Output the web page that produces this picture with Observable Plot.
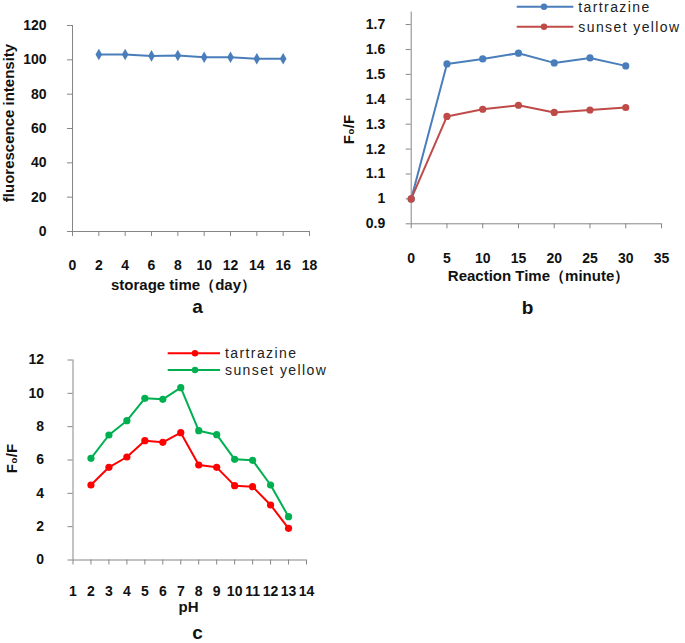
<!DOCTYPE html>
<html><head><meta charset="utf-8">
<script src="https://cdn.jsdelivr.net/npm/d3@7"></script>
<script src="https://cdn.jsdelivr.net/npm/@observablehq/plot@0.6"></script>
<style>
body{margin:0;background:#fff;}
#root{position:relative;width:685px;height:643px;overflow:hidden;font-family:"Liberation Sans",Arial,sans-serif;}
.panel{position:absolute;}
.panel svg{overflow:visible;}
</style></head><body><div id="root"></div>
<script>
// ---- data ----
const seriesNames = ["tartrazine", "sunset yellow"];

const daysA = [2, 4, 6, 8, 10, 12, 14, 16];
const intensityA = [103.1, 103.1, 102.3, 102.5, 101.5, 101.5, 100.6, 100.6];
const xTicksA = [0, 2, 4, 6, 8, 10, 12, 14, 16, 18];
const yTicksA = [0, 20, 40, 60, 80, 100, 120];

const timeB = [0, 5, 10, 15, 20, 25, 30];
const tartrazineB = [1.0, 1.542, 1.562, 1.585, 1.546, 1.566, 1.534];
const sunsetB = [1.0, 1.331, 1.360, 1.376, 1.347, 1.357, 1.367];
const xTicksB = [0, 5, 10, 15, 20, 25, 30, 35];
const yTicksB = [0.9, 1, 1.1, 1.2, 1.3, 1.4, 1.5, 1.6, 1.7];

const pHC = [2, 3, 4, 5, 6, 7, 8, 9, 10, 11, 12, 13];
const tartrazineC = [4.50, 5.56, 6.18, 7.16, 7.06, 7.64, 5.70, 5.56, 4.46, 4.40, 3.30, 1.90];
const sunsetC = [6.10, 7.50, 8.36, 9.70, 9.64, 10.34, 7.76, 7.52, 6.04, 5.98, 4.50, 2.60];
const xTicksC = [1, 2, 3, 4, 5, 6, 7, 8, 9, 10, 11, 12, 13, 14];
const yTicksC = [0, 2, 4, 6, 8, 10, 12];

// ---- styling ----
const axisGray = "#868686";
const textColor = "#111";
const font = "'Liberation Sans', Arial, sans-serif";
const blueA = "#4a7ebb";
const colorsB = ["#4a7ebb", "#be4b48"];
const colorsC = ["#ff0000", "#00b050"];

const root = document.getElementById("root");
function place(el, left, top) {
  const d = document.createElement("div");
  d.className = "panel";
  d.style.left = left + "px";
  d.style.top = top + "px";
  d.appendChild(el);
  root.appendChild(d);
}
const baseStyle = {fontFamily: font, fontSize: "14px", fontWeight: "bold", color: textColor, background: "transparent", overflow: "visible"};
function title(str, dx, dy, extra = {}) {
  return Plot.text([str], {text: d => d, frameAnchor: "top-left", dx, dy, lineAnchor: "middle", textAnchor: "middle",
    fontSize: 15, fontWeight: "bold", fill: textColor, ...extra});
}
function legend(svg, names, colors, x1, x2, xm, xt, ys) {
  const g = d3.select(svg).append("g").attr("text-anchor", "start");
  names.forEach((n, i) => {
    g.append("line").attr("x1", x1).attr("x2", x2).attr("y1", ys[i]).attr("y2", ys[i])
      .attr("stroke", colors[i]).attr("stroke-width", 2);
    g.append("circle").attr("cx", xm).attr("cy", ys[i]).attr("r", 3.2).attr("fill", colors[i]);
    g.append("text").attr("x", xt).attr("y", ys[i]).attr("dy", "0.35em")
      .attr("text-anchor", "start")
      .attr("font-family", font).attr("font-size", 14).attr("font-weight", "normal")
      .attr("letter-spacing", "1.4px").attr("fill", "#222").text(n);
  });
}
// give axis titles a little extra tracking, as in the reference
function track(svg) {
  d3.select(svg).selectAll("text").filter(function() {
    return this.getAttribute("font-size") === "15";
  }).attr("letter-spacing", "0.4px");
  return svg;
}

// ---- panel a ----
const dataA = daysA.map((d, i) => ({day: d, value: intensityA[i]}));
const plotA = Plot.plot({
  width: 340, height: 320, marginLeft: 72, marginRight: 31, marginTop: 25, marginBottom: 89,
  x: {domain: [0, 18]}, y: {domain: [0, 120]},
  style: baseStyle,
  marks: [
    Plot.ruleY([0], {stroke: axisGray}),
    Plot.ruleX([0], {stroke: axisGray}),
    Plot.axisX({ticks: xTicksA, tickSize: 5, tickPadding: 24, stroke: axisGray, fill: textColor, label: null}),
    Plot.axisY({ticks: yTicksA, tickSize: 5, tickPadding: 21, stroke: axisGray, fill: textColor, label: null}),
    Plot.line(dataA, {x: "day", y: "value", stroke: blueA, strokeWidth: 2}),
    Plot.dot(dataA, {x: "day", y: "value", symbol: "diamond", r: 3.5, fill: blueA}),
    title("fluorescence intensity", -63, 97.5, {rotate: -90}),
    title("storage time（day）", 111, 260),
    title("a", 125, 281, {fontSize: 19})
  ]
});
place(track(plotA), 0, 0);

// ---- panel b ----
const dataB = [
  ...timeB.map((t, i) => ({t, v: tartrazineB[i], s: seriesNames[0]})),
  ...timeB.map((t, i) => ({t, v: sunsetB[i], s: seriesNames[1]}))
];
const plotB = Plot.plot({
  width: 345, height: 320, marginLeft: 70.7, marginRight: 24, marginTop: 11.6, marginBottom: 96.7,
  x: {domain: [0, 35]}, y: {domain: [0.9, 1.75]},
  color: {domain: seriesNames, range: colorsB},
  style: baseStyle,
  marks: [
    Plot.ruleY([0.9], {stroke: axisGray}),
    Plot.ruleX([0], {stroke: axisGray}),
    Plot.axisX({ticks: xTicksB, tickSize: 5, tickPadding: 24, stroke: axisGray, fill: textColor, label: null}),
    Plot.axisY({ticks: yTicksB, tickSize: 5, tickPadding: 21, stroke: axisGray, fill: textColor, label: null, tickFormat: d => String(d)}),
    Plot.line(dataB, {x: "t", y: "v", z: "s", stroke: "s", strokeWidth: 2}),
    Plot.dot(dataB, {x: "t", y: "v", fill: "s", r: 3.6}),
    title("F₀/F", -61.7, 117.4, {rotate: -90}),
    title("Reaction Time（minute）", 127.3, 264.4),
    title("b", 116.3, 296, {fontSize: 19})
  ]
});
legend(plotB, seriesNames, colorsB, 176.7, 233.3, 204, 238.3, [6.7, 26.7]);
place(track(plotB), 340, 0);

// ---- panel c ----
const dataC = [
  ...pHC.map((p, i) => ({p, v: tartrazineC[i], s: seriesNames[0]})),
  ...pHC.map((p, i) => ({p, v: sunsetC[i], s: seriesNames[1]}))
];
const plotC = Plot.plot({
  width: 340, height: 313, marginLeft: 72.5, marginRight: 34, marginTop: 29.5, marginBottom: 83.5,
  x: {domain: [1, 14]}, y: {domain: [0, 12]},
  color: {domain: seriesNames, range: colorsC},
  style: baseStyle,
  marks: [
    Plot.ruleY([0], {stroke: axisGray}),
    Plot.ruleX([1], {stroke: axisGray}),
    Plot.axisX({ticks: xTicksC, tickSize: 5, tickPadding: 21, stroke: axisGray, fill: textColor, label: null}),
    Plot.axisY({ticks: yTicksC, tickSize: 5, tickPadding: 24, stroke: axisGray, fill: textColor, label: null}),
    Plot.line(dataC, {x: "p", y: "v", z: "s", stroke: "s", strokeWidth: 2}),
    Plot.dot(dataC, {x: "p", y: "v", fill: "s", r: 3.6}),
    title("F₀/F", -60.5, 98.5, {rotate: -90}),
    title("pH", 115.5, 247.2),
    title("c", 124.5, 273, {fontSize: 19})
  ]
});
legend(plotC, seriesNames, colorsC, 167.7, 220, 195, 225, [23.3, 40]);
place(track(plotC), 0, 330);
</script>
</body></html>
